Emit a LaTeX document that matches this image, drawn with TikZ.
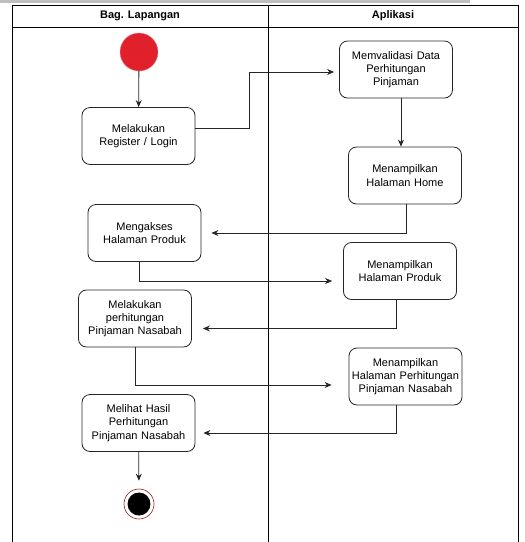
\documentclass[tikz,border=0pt]{standalone}
\usepackage{fontspec}
\setmainfont{Liberation Sans}
\usepackage{tikz}
\usepackage{xcolor}
\usetikzlibrary{arrows.meta}
\definecolor{startred}{HTML}{E0202A}
\definecolor{ringred}{HTML}{8B1A1A}
\tikzstyle{activity} = [rectangle, rounded corners=8pt, minimum width=113pt, minimum height=57pt, text centered, text width=112pt, inner xsep=0.5pt, draw=black!85, line width=0.8pt, font=\fontsize{11}{13.3}\selectfont]
\tikzstyle{flow} = [draw=black!85, line width=0.8pt, -{Stealth[length=7pt,width=6pt]}]

\begin{document}
\begin{tikzpicture}[x=1pt, y=-1pt]
        \useasboundingbox (0,0) rectangle (525,542);
        \fill[black!25] (0,0) rectangle (470,3);

        % Swimlanes
        \draw[line width=1pt] (12,542) -- (12,5) -- (518,5) -- (518,542);
        \draw[line width=1pt] (12,27) -- (518,27);
        \draw[line width=1pt] (268,5) -- (268,542);
        \draw (140,16) node[font=\fontsize{11}{12}\selectfont\bfseries] (lane1) {Bag. Lapangan};
        \draw (393,16) node[font=\fontsize{11}{12}\selectfont\bfseries] (lane2) {Aplikasi};

        % Start and end
        \node[circle, fill=startred, draw=startred!60, minimum size=38pt, inner sep=0pt] at (139,52) (start) {};
        \node[circle, draw=ringred, line width=0.6pt, minimum size=30pt, inner sep=0pt] at (139,504) (finish) {};
        \node[circle, fill=black, minimum size=23pt, inner sep=0pt] at (139,504) (finishdot) {};

        % Activities
        \node[activity] at (138.5,136) (login) {Melakukan\\Register / Login};
        \node[activity] at (396,69.5) (validasi) {Memvalidasi Data\\Perhitungan\\Pinjaman};
        \node[activity] at (405,175.5) (home) {Menampilkan\\Halaman Home};
        \node[activity] at (144.5,233) (akses) {Mengakses\\Halaman Produk};
        \node[activity] at (400,271) (produk) {Menampilkan\\Halaman Produk};
        \node[activity] at (135,318.5) (hitung) {Melakukan\\perhitungan\\Pinjaman Nasabah};
        \node[activity] at (405.5,376.5) (tampilhitung) {Menampilkan\\Halaman Perhitungan\\Pinjaman Nasabah};
        \node[activity] at (138.5,423) (hasil) {Melihat Hasil\\Perhitungan\\Pinjaman Nasabah};

        % Flows
        \draw[flow] (start) -- (login);
        \draw[flow] ([yshift=8]login.east) -- ++(54,0) |- ([xshift=-5,yshift=-2.5]validasi.west);
        \draw[flow] ([xshift=5]validasi.south) -- ([xshift=-4]home.north);
        \draw[flow] ([xshift=1]home.south) |- ([xshift=10]akses.east);
        \draw[flow] ([xshift=-5.5]akses.south) |- ([xshift=-11,yshift=-10]produk.west);
        \draw[flow] ([xshift=-4]produk.south) |- ([xshift=11,yshift=-10]hitung.east);
        \draw[flow] (hitung.south) |- ([xshift=-17,yshift=-8.5]tampilhitung.west);
        \draw[flow] ([xshift=-9.5]tampilhitung.south) |- ([xshift=8,yshift=-10]hasil.east);
        \draw[flow, shorten >=8pt] (hasil) -- (finish);
    \end{tikzpicture}
\end{document}
